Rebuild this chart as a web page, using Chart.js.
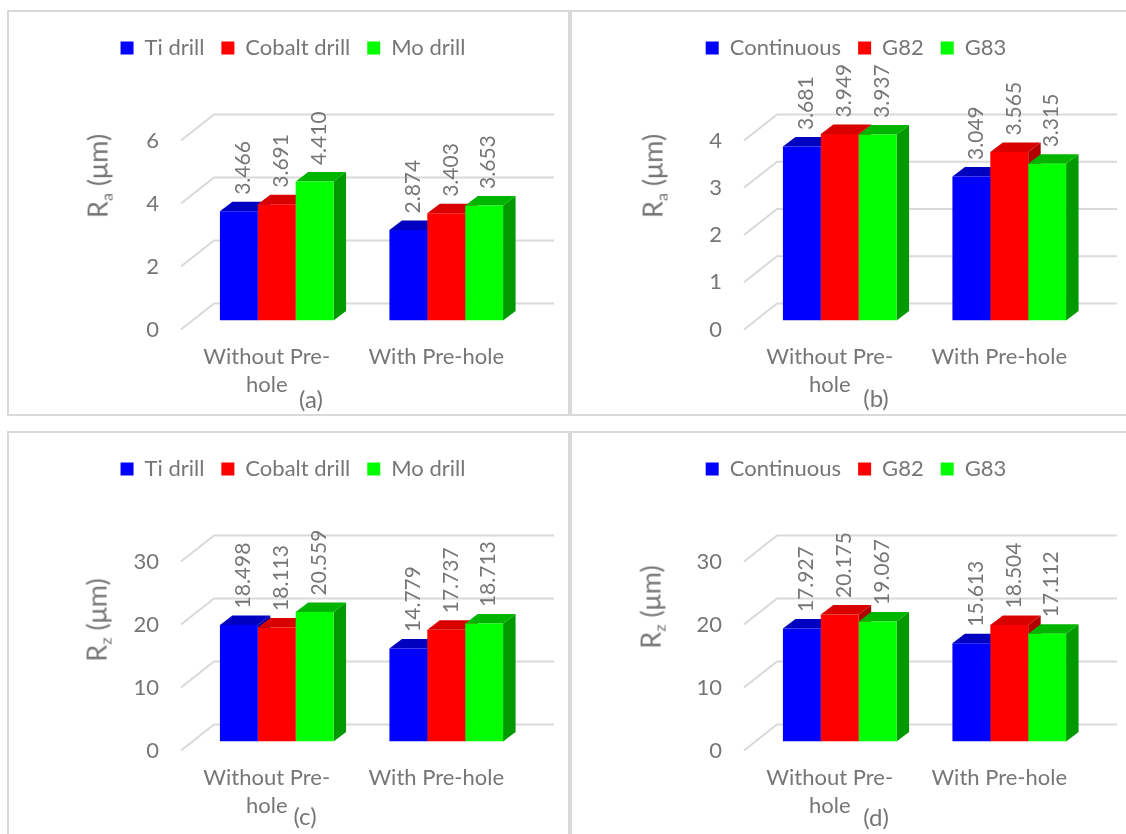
<!DOCTYPE html>
<html>
<head>
<meta charset="utf-8">
<script src="https://cdn.jsdelivr.net/npm/chart.js@4.4.1/dist/chart.umd.min.js"></script>
<style>
  body { margin: 0; width: 1126px; height: 834px; overflow: hidden; position: relative; background: #fff; font-family: Lato, sans-serif; }
  .panel { position: absolute; width: 563px; height: 406px; border: 2px solid #d9d9d9; box-sizing: border-box; background: #fff; }
  .panel canvas { position: absolute; left: 0; top: 0; }
  .ytitle { position: absolute; transform: translate(-50%, -50%) rotate(-90deg); white-space: nowrap; color: #767676; font-size: 27px; }
  .ytitle sub { font-size: 0.6em; vertical-align: -0.3em; }
  .tag { position: absolute; transform: translate(-50%, -50%); color: #767676; font-size: 24px; }
</style>
</head>
<body>
<div class="panel" style="left:7px;top:10px"><canvas id="chartA" width="559" height="402"></canvas></div>
<div class="panel" style="left:570px;top:10px"><canvas id="chartB" width="559" height="402"></canvas></div>
<div class="panel" style="left:7px;top:431px"><canvas id="chartC" width="559" height="402"></canvas></div>
<div class="panel" style="left:570px;top:431px"><canvas id="chartD" width="559" height="402"></canvas></div>

<div class="ytitle" style="left:98px;top:176px">R<sub>a</sub> (μm)</div>
<div class="ytitle" style="left:653px;top:176px">R<sub>a</sub> (μm)</div>
<div class="ytitle" style="left:97px;top:620px">R<sub>z</sub> (μm)</div>
<div class="ytitle" style="left:651px;top:607px">R<sub>z</sub> (μm)</div>
<div class="tag" style="left:311px;top:398px">(a)</div>
<div class="tag" style="left:876px;top:397px">(b)</div>
<div class="tag" style="left:305px;top:815px">(c)</div>
<div class="tag" style="left:876px;top:816px">(d)</div>

<script>
// categories and series
const categories = [['Without Pre-', 'hole'], 'With Pre-hole'];
const drillNames = ['Ti drill', 'Cobalt drill', 'Mo drill'];
const cycleNames = ['Continuous', 'G82', 'G83'];

const raTi = [3.466, 2.874];
const raCobalt = [3.691, 3.403];
const raMo = [4.410, 3.653];
const raContinuous = [3.681, 3.049];
const raG82 = [3.949, 3.565];
const raG83 = [3.937, 3.315];

const rzTi = [18.498, 14.779];
const rzCobalt = [18.113, 17.737];
const rzMo = [20.559, 18.713];
const rzContinuous = [17.927, 15.613];
const rzG82 = [20.175, 18.504];
const rzG83 = [19.067, 17.112];

const raDrillTicks = [0, 2, 4, 6];
const raCycleTicks = [0, 1, 2, 3, 4];
const rzTicks = [0, 10, 20, 30];

// colours: front, top, side
const fronts = ['#0000ff', '#ff0000', '#00ff00'];
const tops = ['#0000c0', '#d90000', '#00b400'];
const sides = ['#0000a0', '#b00000', '#009a00'];
const textColor = '#767676';
const gridColor = '#d9d9d9';

// fake 3d geometry (pixels)
const DEPTH_DX = 12.5, DEPTH_DY = -9.5;
const BACK_DX = 22, BACK_DY = -17;
const DIAG_DX = -11, DIAG_DY = 9;
const AXIS_PX = 189; // height of top tick above zero

Chart.defaults.font.family = 'Lato, sans-serif';
Chart.defaults.font.size = 22;
Chart.defaults.color = textColor;

const bar3d = {
    id: 'bar3d',
    beforeDatasetsDraw(chart) {
        const { ctx, chartArea: a, scales: { y } } = chart;
        ctx.save();
        // walls grid
        ctx.strokeStyle = gridColor;
        ctx.lineWidth = 2;
        y.ticks.forEach(t => {
            const py = y.getPixelForValue(t.value);
            ctx.beginPath();
            ctx.moveTo(a.left + DIAG_DX, py + DIAG_DY);
            ctx.lineTo(a.left + BACK_DX, py + BACK_DY);
            ctx.lineTo(a.right + BACK_DX + 1, py + BACK_DY);
            ctx.stroke();
        });
        // side and top faces, front faces come from chart.js
        for (let i = 0; i < chart.data.labels.length; i++) {
            chart.data.datasets.forEach((ds, d) => {
                const el = chart.getDatasetMeta(d).data[i];
                const l = el.x - el.width / 2, r = el.x + el.width / 2;
                const top = el.y, base = el.base;
                ctx.fillStyle = ds.sideColor;
                ctx.beginPath();
                ctx.moveTo(r, top);
                ctx.lineTo(r + DEPTH_DX, top + DEPTH_DY);
                ctx.lineTo(r + DEPTH_DX, base + DEPTH_DY);
                ctx.lineTo(r, base);
                ctx.closePath();
                ctx.fill();
                ctx.fillStyle = ds.topColor;
                ctx.beginPath();
                ctx.moveTo(l, top);
                ctx.lineTo(l + DEPTH_DX, top + DEPTH_DY);
                ctx.lineTo(r + DEPTH_DX, top + DEPTH_DY);
                ctx.lineTo(r, top);
                ctx.closePath();
                ctx.fill();
            });
        }
        ctx.restore();
    },
    afterDatasetsDraw(chart) {
        const { ctx } = chart;
        ctx.save();
        ctx.fillStyle = textColor;
        ctx.font = '21px Lato, sans-serif';
        ctx.textAlign = 'left';
        ctx.textBaseline = 'middle';
        chart.data.datasets.forEach((ds, d) => {
            chart.getDatasetMeta(d).data.forEach((el, i) => {
                ctx.save();
                ctx.translate(el.x + 4.5, el.y + DEPTH_DY - 7);
                ctx.rotate(-Math.PI / 2);
                ctx.fillText(ds.data[i].toFixed(3), 0, 0);
                ctx.restore();
            });
        });
        ctx.restore();
    }
};

function makeChart(id, names, series, tickList) {
    new Chart(document.getElementById(id), {
        type: 'bar',
        data: {
            labels: categories,
            datasets: series.map((values, d) => ({
                label: names[d],
                data: values,
                backgroundColor: fronts[d],
                topColor: tops[d],
                sideColor: sides[d],
                borderWidth: 0,
                categoryPercentage: 0.6706,
                barPercentage: 1
            }))
        },
        options: {
            responsive: false,
            animation: false,
            layout: { padding: { top: 8, right: 37, left: 46, bottom: 0 } },
            plugins: {
                legend: {
                    position: 'top',
                    labels: { boxWidth: 13, boxHeight: 13, padding: 17, color: textColor, font: { size: 22 } }
                },
                tooltip: { enabled: false }
            },
            scales: {
                x: {
                    grid: { display: false, drawTicks: false },
                    border: { display: false },
                    ticks: { color: textColor, padding: 22, labelOffset: -10, maxRotation: 0, autoSkip: false,
                             font: { size: 22, lineHeight: '28px' } },
                    afterFit: s => { s.height = 93.5; }
                },
                y: {
                    min: 0,
                    max: tickList[tickList.length - 1],
                    grid: { display: false, drawTicks: false },
                    border: { display: false },
                    ticks: { color: textColor, padding: 33, labelOffset: 9, font: { size: 22 } },
                    afterBuildTicks: s => {
                        s.ticks = tickList.map(v => ({ value: v }));
                        s.max = tickList[tickList.length - 1] * s.height / AXIS_PX;
                    },
                    afterFit: s => { s.width = 137; }
                }
            }
        },
        plugins: [bar3d]
    });
}

makeChart('chartA', drillNames, [raTi, raCobalt, raMo], raDrillTicks);
makeChart('chartB', cycleNames, [raContinuous, raG82, raG83], raCycleTicks);
makeChart('chartC', drillNames, [rzTi, rzCobalt, rzMo], rzTicks);
makeChart('chartD', cycleNames, [rzContinuous, rzG82, rzG83], rzTicks);
</script>
</body>
</html>
